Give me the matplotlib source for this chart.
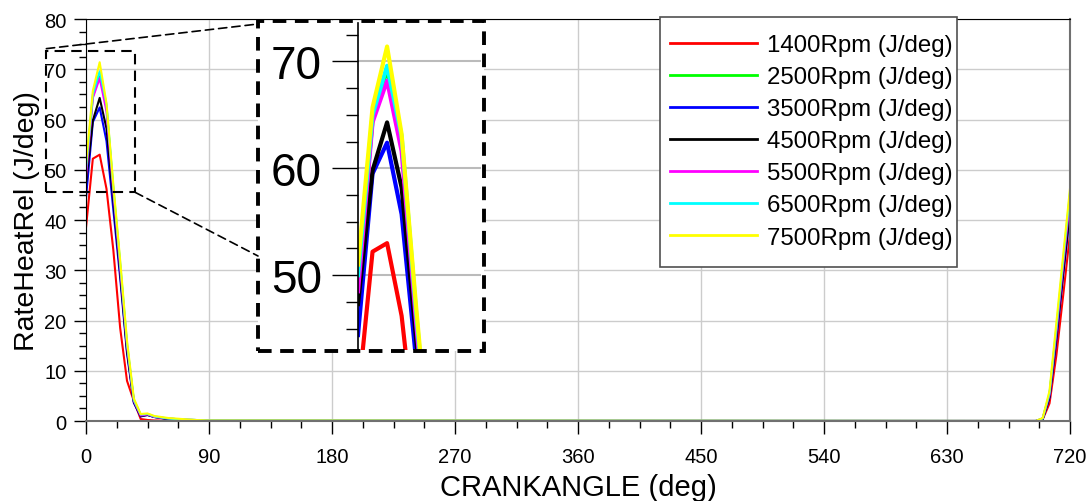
import matplotlib.pyplot as plt
from matplotlib.patches import Rectangle, ConnectionPatch
from matplotlib.ticker import MultipleLocator

plt.rcParams['font.family'] = ['Liberation Sans', 'DejaVu Sans']

# crank angle samples (deg)
crank_angle = [0, 5, 10, 15, 20, 25, 30, 35, 40, 45, 50, 60, 70, 80, 90,
               695, 700, 705, 710, 715, 720]

# heat release rate per engine speed (J/deg)
hr_1400 = [38.5, 52.2, 53.0, 46.2, 34.0, 18.5, 8.0, 4.0, 0.4, 0.2, 0.1, 0.05, 0.0, 0.0, 0.0,
           0.0, 0.3, 3.5, 13.0, 25.0, 37.2]
hr_2500 = [49.5, 64.5, 69.3, 62.5, 46.0, 31.0, 15.0, 4.0, 1.2, 1.3, 0.8, 0.5, 0.3, 0.2, 0.1,
           0.0, 0.5, 5.3, 18.0, 31.5, 45.0]
hr_3500 = [44.4, 59.5, 62.4, 55.7, 42.0, 28.5, 13.5, 3.6, 0.9, 1.2, 0.8, 0.4, 0.2, 0.1, 0.0,
           0.0, 0.4, 4.6, 16.0, 29.0, 41.2]
hr_4500 = [47.3, 59.8, 64.3, 58.2, 44.0, 29.5, 14.0, 3.8, 1.0, 1.2, 0.8, 0.4, 0.2, 0.1, 0.0,
           0.0, 0.4, 4.8, 16.5, 29.5, 42.0]
hr_5500 = [48.5, 64.3, 68.2, 61.6, 45.5, 30.5, 15.0, 4.0, 1.1, 1.3, 0.8, 0.5, 0.3, 0.2, 0.1,
           0.0, 0.5, 5.2, 17.5, 31.0, 44.0]
hr_6500 = [50.0, 65.0, 69.6, 63.0, 46.5, 31.5, 15.5, 4.2, 1.3, 1.4, 0.9, 0.5, 0.3, 0.2, 0.1,
           0.0, 0.5, 5.5, 18.5, 32.0, 45.5]
hr_7500 = [51.0, 65.7, 71.4, 63.2, 47.0, 32.0, 16.0, 4.5, 1.4, 1.5, 1.0, 0.6, 0.4, 0.2, 0.1,
           0.0, 0.6, 6.0, 19.5, 33.0, 46.3]

series = [hr_1400, hr_2500, hr_3500, hr_4500, hr_5500, hr_6500, hr_7500]
labels = ['1400Rpm (J/deg)', '2500Rpm (J/deg)', '3500Rpm (J/deg)', '4500Rpm (J/deg)',
          '5500Rpm (J/deg)', '6500Rpm (J/deg)', '7500Rpm (J/deg)']
colors = ['#ff0000', '#00ff00', '#0000ff', '#000000', '#ff00ff', '#00ffff', '#ffff00']

W, H = 1089, 502
fig = plt.figure(figsize=(W / 100, H / 100), dpi=100)

def px(x0, y0, x1, y1):
    return [x0 / W, 1 - y1 / H, (x1 - x0) / W, (y1 - y0) / H]

ax = fig.add_axes(px(86, 20, 1070, 422))
for y, c, lab in zip(series, colors, labels):
    ax.plot(crank_angle, y, color=c, lw=1.5, label=lab)

ax.set_xlim(0, 720)
ax.set_ylim(0, 80)
ax.xaxis.set_major_locator(MultipleLocator(90))
ax.xaxis.set_minor_locator(MultipleLocator(22.5))
ax.yaxis.set_major_locator(MultipleLocator(10))
ax.yaxis.set_minor_locator(MultipleLocator(2.5))
ax.grid(True, which='major', color='#cccccc', lw=1)
ax.tick_params(which='major', direction='out', length=9, width=1, labelsize=14.5, colors='black')
ax.tick_params(which='minor', direction='out', length=5, width=1)
ax.tick_params(axis='x', pad=10)
ax.tick_params(axis='y', pad=5)
for s in ['bottom', 'right']:
    ax.spines[s].set_color('#707070')
    ax.spines[s].set_linewidth(1.5)
ax.spines['left'].set_color('black')
ax.spines['top'].set_color('black')
ax.set_xlabel('CRANKANGLE (deg)', fontsize=21, labelpad=5)
ax.set_ylabel('RateHeatRel (J/deg)', fontsize=20.5, labelpad=3)

# legend: entries without frame, box drawn separately behind them
handles, names = ax.get_legend_handles_labels()
leg = fig.legend(handles, names, loc='upper left', bbox_to_anchor=(670 / W, 1 - 35 / H),
                 bbox_transform=fig.transFigure, fontsize=17.3, frameon=False,
                 borderaxespad=0, borderpad=0, handlelength=3.6, handletextpad=0.45,
                 labelspacing=0.42)
for line in leg.get_lines():
    line.set_linewidth(2)
leg.set_zorder(3)
fig.patches.append(Rectangle((660 / W, 1 - 268 / H), 297 / W, 250 / H, transform=fig.transFigure,
                             fc='white', ec='#505050', lw=1.2, zorder=1))

# zoom region marker on the main axes
zx0, zx1, zy0, zy1 = -29, 36, 45.5, 73.7
ax.add_patch(Rectangle((zx0, zy0), zx1 - zx0, zy1 - zy0, fill=False, ec='black',
                       lw=1.5, ls=(0, (5, 3)), clip_on=False, zorder=6))

# inset frame
box = px(258, 22, 484, 352)
fig.patches.append(Rectangle((box[0], box[1]), box[2], box[3], transform=fig.transFigure,
                             fc='white', ec='none', zorder=2))
fig.patches.append(Rectangle((box[0], box[1]), box[2], box[3], transform=fig.transFigure,
                             fill=False, ec='black', lw=2.8, ls=(0, (3.5, 2.2)), zorder=10))

for xy_a, xy_b in [((zx0, zy1 + 0.4), (258 / W, 1 - 25 / H)), ((zx1, zy0), (258 / W, 1 - 257 / H))]:
    con = ConnectionPatch(xyA=xy_a, coordsA='data', axesA=ax,
                          xyB=xy_b, coordsB='figure fraction',
                          color='black', lw=1.2, ls=(0, (5, 3)), zorder=7)
    con.set_annotation_clip(False)
    fig.add_artist(con)

axin = fig.add_axes(px(358, 24, 481, 351), zorder=5)
axin.set_facecolor('white')
for y, c in zip(series, colors):
    axin.plot(crank_angle, y, color=c, lw=3)
axin.set_xlim(0, 42.3)
axin.set_ylim(43.0, 73.6)
axin.yaxis.set_major_locator(MultipleLocator(10))
axin.yaxis.set_minor_locator(MultipleLocator(2.5))
axin.grid(True, axis='y', which='major', color='#bbbbbb', lw=1.5)
axin.set_xticks([])
axin.tick_params(axis='y', which='major', length=19, width=1, labelsize=33, pad=7)
axin.tick_params(axis='y', which='minor', length=9, width=1)
for s in ['top', 'right', 'bottom']:
    axin.spines[s].set_visible(False)
axin.spines['left'].set_linewidth(1.2)

fig.savefig('out.png', dpi=100)
